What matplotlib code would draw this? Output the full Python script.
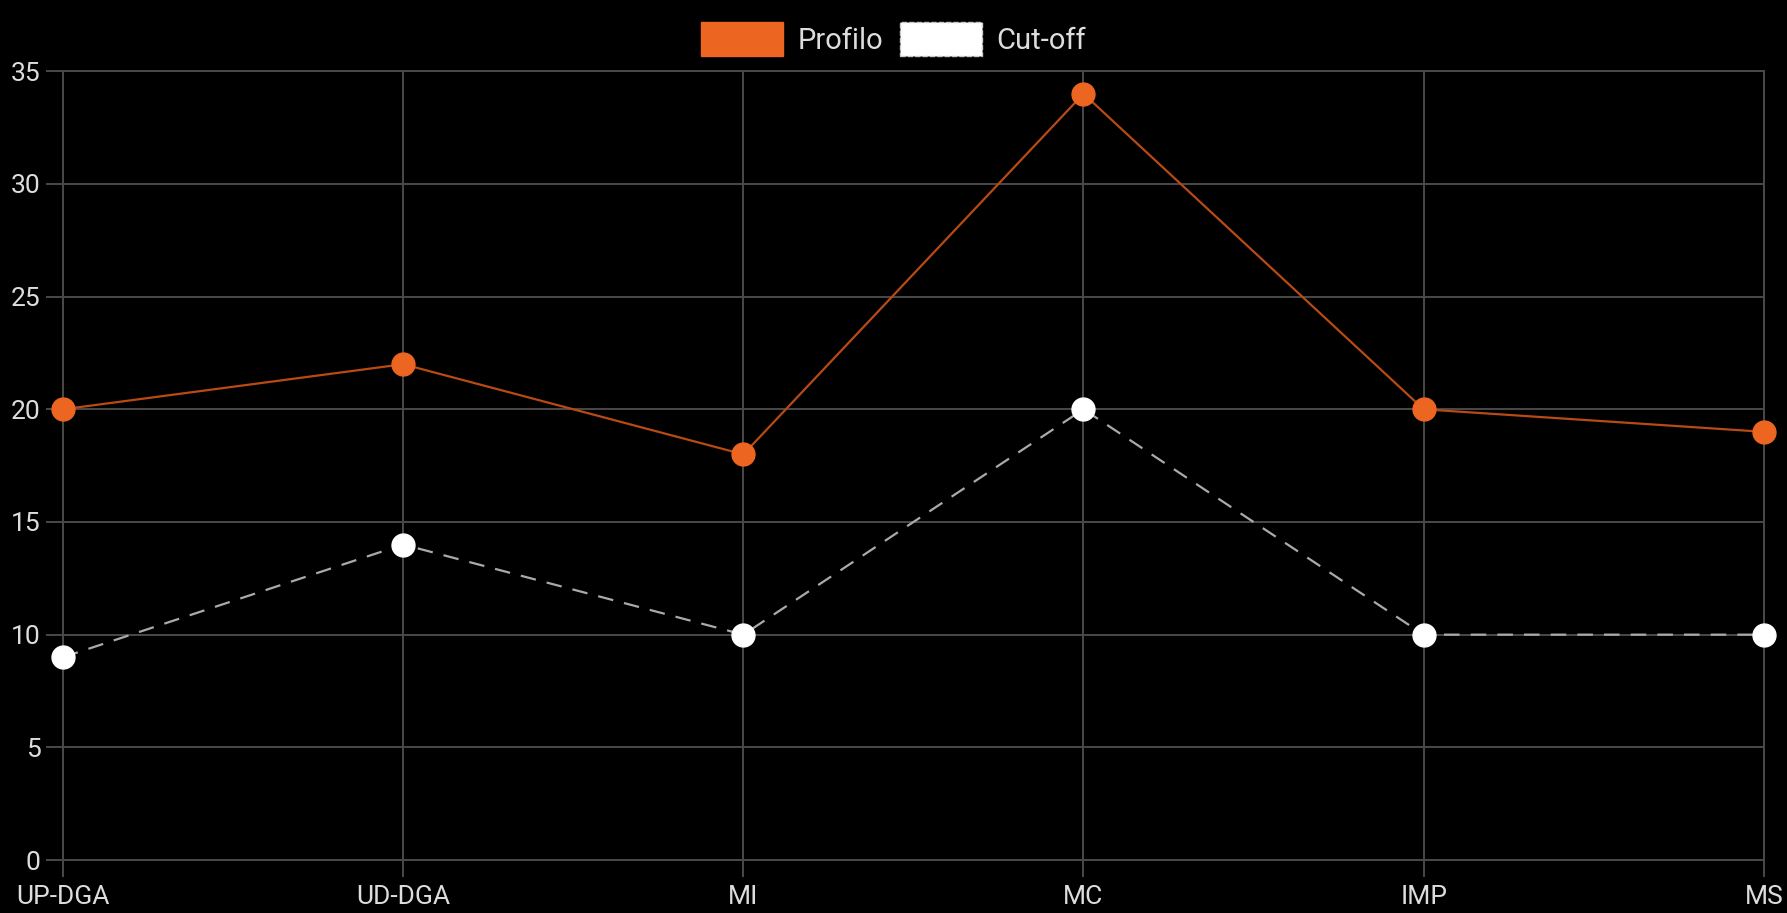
import matplotlib
matplotlib.use('Agg')
import matplotlib.pyplot as plt
from matplotlib.patches import Patch

categories = ['UP-DGA', 'UD-DGA', 'MI', 'MC', 'IMP', 'MS']
profilo = [20, 22, 18, 34, 20, 19]
cutoff = [9, 14, 10, 20, 10, 10]

ORANGE = '#EC6521'
ORANGE_LINE = '#B84A14'
GRID = '#4a4a4a'
TXT = '#dddddd'

plt.rcParams['font.family'] = ['Roboto', 'DejaVu Sans']

fig = plt.figure(figsize=(17.87, 9.13), dpi=100, facecolor='black')
ax = fig.add_axes([0.0353, 0.058, 0.9517, 0.864], facecolor='black')

x = list(range(len(categories)))
ax.plot(x, profilo, color=ORANGE_LINE, lw=1.6, zorder=3)
ax.plot(x, profilo, ls='none', marker='o', ms=16.5, mfc=ORANGE, mec=ORANGE, zorder=4, clip_on=False)
ax.plot(x, cutoff, color='#aaaaaa', lw=1.6, dashes=(7, 5), zorder=3)
ax.plot(x, cutoff, ls='none', marker='o', ms=16.5, mfc='white', mec='white', zorder=4, clip_on=False)

ax.set_xlim(0, len(categories) - 1)
ax.set_ylim(0, 35)
ax.set_xticks(x)
ax.set_xticklabels(categories)
ax.set_yticks(range(0, 36, 5))
ax.grid(True, color=GRID, lw=1.4)
ax.set_axisbelow(True)
for s in ax.spines.values():
    s.set_color(GRID); s.set_linewidth(1.4)
ax.tick_params(colors=GRID, labelcolor=TXT, labelsize=19, length=12, width=1.4)
ax.tick_params(axis='x', pad=6)
ax.tick_params(axis='y', pad=4)

handles = [Patch(facecolor=ORANGE, edgecolor=ORANGE),
           Patch(facecolor='white', edgecolor='#cccccc', linestyle='--')]
fig.legend(handles, ['Profilo', 'Cut-off'], loc='upper center', bbox_to_anchor=(0.5, 1.005),
           ncol=2, frameon=False, fontsize=21, labelcolor=TXT,
           handlelength=2.8, handleheight=1.45, columnspacing=0.6, handletextpad=0.5)

fig.savefig('out.png', facecolor='black')
